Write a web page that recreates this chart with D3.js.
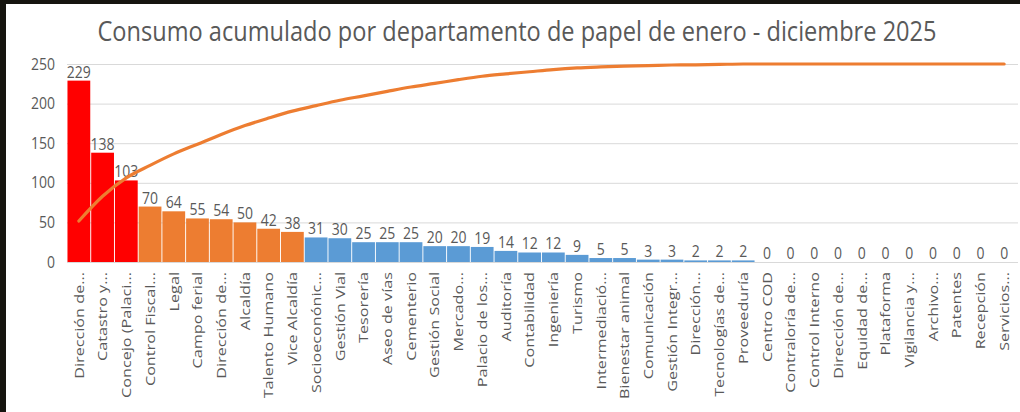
<!DOCTYPE html>
<html>
<head>
<meta charset="utf-8">
<script src="https://cdn.jsdelivr.net/npm/d3@7"></script>
<style>
  html, body { margin: 0; padding: 0; background: #ffffff; }
  svg { display: block; }
  text { font-family: "Open Sans", "DejaVu Sans", sans-serif; fill: #595959; }
</style>
</head>
<body>
<svg id="chart" width="1020" height="412"></svg>
<script>
const titulo = "Consumo acumulado por departamento de papel de enero - diciembre 2025";

const departamentos = [
  "Dirección de...", "Catastro y...", "Concejo (Palaci...", "Control Fiscal...", "Legal",
  "Campo ferial", "Dirección de...", "Alcaldía", "Talento Humano", "Vice Alcaldía",
  "Socioeconónic...", "Gestión Vial", "Tesorería", "Aseo de vías", "Cementerio",
  "Gestión Social", "Mercado...", "Palacio de los...", "Auditoría", "Contabilidad",
  "Ingeniería", "Turismo", "Intermediació...", "Bienestar animal", "Comunicación",
  "Gestión Integr...", "Dirección...", "Tecnologías de...", "Proveeduría", "Centro COD",
  "Contraloría de...", "Control Interno", "Dirección de...", "Equidad de...", "Plataforma",
  "Vigilancia y...", "Archivo...", "Patentes", "Recepción", "Servicios..."
];

const consumo = [
  229, 138, 103, 70, 64, 55, 54, 50, 42, 38,
  31, 30, 25, 25, 25, 20, 20, 19, 14, 12,
  12, 9, 5, 5, 3, 3, 2, 2, 2, 0,
  0, 0, 0, 0, 0, 0, 0, 0, 0, 0
];

// Pareto class of each department (A = red, B = orange, C = blue)
const clase = [
  "A", "A", "A", "B", "B", "B", "B", "B", "B", "B",
  "C", "C", "C", "C", "C", "C", "C", "C", "C", "C",
  "C", "C", "C", "C", "C", "C", "C", "C", "C", "C",
  "C", "C", "C", "C", "C", "C", "C", "C", "C", "C"
];

// Cumulative percentage (secondary, hidden axis 0-100 %)
const porcentajeAcumulado = [
  20.7, 33.2, 42.5, 48.8, 54.6, 59.5, 64.4, 68.9, 72.7, 76.2,
  79.0, 81.7, 83.9, 86.2, 88.4, 90.2, 92.1, 93.8, 95.0, 96.1,
  97.2, 98.0, 98.5, 98.9, 99.2, 99.5, 99.6, 99.8, 100, 100,
  100, 100, 100, 100, 100, 100, 100, 100, 100, 100
];

const yTicks = [0, 50, 100, 150, 200, 250];

(function () {
const svg = d3.select("#chart");
const W = 1020, H = 412;
const STRETCH = 1.15; // the reference screenshot is stretched vertically

// screenshot frame
svg.append("rect").attr("x", 0).attr("y", 0).attr("width", W).attr("height", H).attr("fill", "#ffffff");
svg.append("rect").attr("x", 0).attr("y", 0).attr("width", W).attr("height", 4).attr("fill", "#16150f");
svg.append("rect").attr("x", 0).attr("y", 0).attr("width", 6).attr("height", H).attr("fill", "#16150f");

const mLeft = 67, mRight = 1016, mTop = 64, mBottom = 262;

const x = d3.scaleBand().domain(d3.range(departamentos.length)).range([mLeft, mRight]).paddingInner(0.04).paddingOuter(0.02);
const y = d3.scaleLinear().domain([0, 250]).range([mBottom, mTop]);
const yPct = d3.scaleLinear().domain([0, 100]).range([mBottom, mTop]);
const color = d3.scaleOrdinal().domain(["A", "B", "C"]).range(["#ff0000", "#ed7d31", "#5b9bd5"]);

// title
const t = svg.append("text")
  .attr("transform", `translate(517,41) scale(1,1.12)`)
  .attr("text-anchor", "middle")
  .style("font-size", "20px")
  .text(titulo);
const tw = t.node().getComputedTextLength();
t.style("font-size", (20 * 839 / tw).toFixed(2) + "px");

// gridlines
svg.append("g")
  .attr("transform", `translate(${mLeft},0)`)
  .call(d3.axisLeft(y).tickValues(yTicks).tickSize(-(1018 - mLeft)).tickFormat(""))
  .call(g => g.select(".domain").remove())
  .call(g => g.selectAll("line").attr("stroke", "#d9d9d9").attr("stroke-width", 1));

// y tick labels
svg.append("g").selectAll("text")
  .data(yTicks)
  .join("text")
  .attr("transform", d => `translate(55,${y(d)}) scale(1,${STRETCH})`)
  .attr("text-anchor", "end")
  .attr("dy", "0.35em")
  .style("font-size", "14px")
  .text(d => d);

// bars
svg.append("g").selectAll("rect")
  .data(consumo)
  .join("rect")
  .attr("x", (d, i) => x(i))
  .attr("width", x.bandwidth())
  .attr("y", d => y(d))
  .attr("height", d => y(0) - y(d))
  .attr("fill", (d, i) => color(clase[i]));

// value labels
svg.append("g").selectAll("text")
  .data(consumo)
  .join("text")
  .attr("transform", (d, i) => `translate(${x(i) + x.bandwidth() / 2},${y(d) - 3}) scale(1,${STRETCH})`)
  .attr("text-anchor", "middle")
  .style("font-size", "14px")
  .text(d => d);

// x labels
svg.append("g").selectAll("text")
  .data(departamentos)
  .join("text")
  .attr("transform", (d, i) => `translate(${x(i) + x.bandwidth() / 2},272) rotate(-90) scale(1.2,1)`)
  .attr("text-anchor", "end")
  .attr("dy", "0.35em")
  .style("font-size", "13.5px")
  .text(d => d);

// cumulative line
const line = d3.line()
  .x((d, i) => x(i) + x.bandwidth() / 2)
  .y(d => yPct(d))
  .curve(d3.curveMonotoneX);

svg.append("path")
  .datum(porcentajeAcumulado)
  .attr("d", line)
  .attr("fill", "none")
  .attr("stroke", "#ed7d31")
  .attr("stroke-width", 3.2)
  .attr("stroke-linecap", "round");
})();
</script>
</body>
</html>
